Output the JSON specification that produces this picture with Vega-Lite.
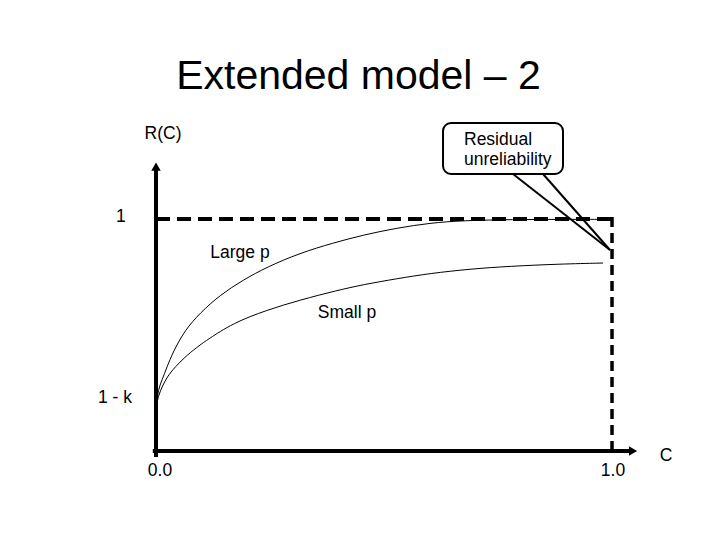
{
  "$schema": "https://vega.github.io/schema/vega-lite/v6.json",
  "width": 720,
  "height": 540,
  "autosize": {"type": "fit", "contains": "padding"},
  "padding": 0,
  "background": "white",
  "config": {"view": {"stroke": null}, "font": "Liberation Sans"},
  "encoding": {
    "x": {"field": "c", "type": "quantitative", "axis": null, "scale": {"domain": [-0.3421, 1.2368], "nice": false, "zero": false}},
    "y": {"field": "r", "type": "quantitative", "axis": null, "scale": {"domain": [-0.3836, 1.944], "nice": false, "zero": false}}
  },
  "layer": [
    {
      "data": {"values": [
        {"series": "Large p", "c": 0.0022, "r": 0.2026},
        {"series": "Large p", "c": 0.0044, "r": 0.2629},
        {"series": "Large p", "c": 0.0132, "r": 0.306},
        {"series": "Large p", "c": 0.0241, "r": 0.3621},
        {"series": "Large p", "c": 0.0373, "r": 0.4267},
        {"series": "Large p", "c": 0.0636, "r": 0.5216},
        {"series": "Large p", "c": 0.0965, "r": 0.5948},
        {"series": "Large p", "c": 0.1404, "r": 0.6724},
        {"series": "Large p", "c": 0.1908, "r": 0.7371},
        {"series": "Large p", "c": 0.2434, "r": 0.7931},
        {"series": "Large p", "c": 0.3158, "r": 0.8534},
        {"series": "Large p", "c": 0.3882, "r": 0.8966},
        {"series": "Large p", "c": 0.4539, "r": 0.931},
        {"series": "Large p", "c": 0.5285, "r": 0.9612},
        {"series": "Large p", "c": 0.6009, "r": 0.9828},
        {"series": "Large p", "c": 0.6732, "r": 0.9935},
        {"series": "Large p", "c": 0.7829, "r": 0.9978},
        {"series": "Large p", "c": 0.886, "r": 0.9985},
        {"series": "Large p", "c": 0.9846, "r": 0.9985},
        {"series": "Small p", "c": 0.0022, "r": 0.2026},
        {"series": "Small p", "c": 0.0044, "r": 0.2328},
        {"series": "Small p", "c": 0.0132, "r": 0.2759},
        {"series": "Small p", "c": 0.0241, "r": 0.319},
        {"series": "Small p", "c": 0.0417, "r": 0.3621},
        {"series": "Small p", "c": 0.068, "r": 0.4138},
        {"series": "Small p", "c": 0.0965, "r": 0.4569},
        {"series": "Small p", "c": 0.1118, "r": 0.4784},
        {"series": "Small p", "c": 0.1689, "r": 0.5517},
        {"series": "Small p", "c": 0.2434, "r": 0.6078},
        {"series": "Small p", "c": 0.3158, "r": 0.6509},
        {"series": "Small p", "c": 0.3969, "r": 0.692},
        {"series": "Small p", "c": 0.4539, "r": 0.717},
        {"series": "Small p", "c": 0.5285, "r": 0.743},
        {"series": "Small p", "c": 0.6009, "r": 0.7655},
        {"series": "Small p", "c": 0.6886, "r": 0.7845},
        {"series": "Small p", "c": 0.7763, "r": 0.7965},
        {"series": "Small p", "c": 0.886, "r": 0.806},
        {"series": "Small p", "c": 0.9803, "r": 0.8103}
      ]},
      "mark": {"type": "line", "color": "black", "strokeWidth": 1, "interpolate": "basis"},
      "encoding": {"detail": {"field": "series"}}
    },
    {
      "data": {"values": [{"c": 0, "r": 1, "c2": 1.0, "r2": 1}]},
      "mark": {"type": "rule", "color": "black", "strokeWidth": 4, "strokeDash": [14, 7]},
      "encoding": {"x2": {"field": "c2"}, "y2": {"field": "r2"}}
    },
    {
      "data": {"values": [{"c": 1.0, "r": 1.0086, "c2": 1.0, "r2": 0}]},
      "mark": {"type": "rule", "color": "black", "strokeWidth": 3.5, "strokeDash": [10, 6]},
      "encoding": {"x2": {"field": "c2"}, "y2": {"field": "r2"}}
    },
    {
      "data": {"values": [
        {"c": 0, "r": -0.026, "c2": 0, "r2": 1.211},
        {"c": -0.007, "r": 0, "c2": 1.0395, "r2": 0}
      ]},
      "mark": {"type": "rule", "color": "black", "strokeWidth": 4},
      "encoding": {"x2": {"field": "c2"}, "y2": {"field": "r2"}}
    },
    {
      "data": {"values": [{"c": 0, "r": 1.2254}]},
      "mark": {"type": "point", "shape": "triangle-up", "filled": true, "color": "black", "opacity": 1, "size": 90}
    },
    {
      "data": {"values": [{"c": 1.0461, "r": 0}]},
      "mark": {"type": "point", "shape": "triangle-right", "filled": true, "color": "black", "opacity": 1, "size": 90}
    },
    {
      "data": {"values": [
        {"c": 0.7829, "r": 1.194, "c2": 0.9956, "r2": 0.8664},
        {"c": 0.8487, "r": 1.194, "c2": 0.9956, "r2": 0.8664}
      ]},
      "mark": {"type": "rule", "color": "black", "strokeWidth": 2},
      "encoding": {"x2": {"field": "c2"}, "y2": {"field": "r2"}}
    },
    {
      "data": {"values": [{"c": 0.6294, "r": 1.4138, "c2": 0.8925, "r2": 1.194}]},
      "mark": {"type": "rect", "fill": "white", "stroke": "black", "strokeWidth": 2, "cornerRadius": 8},
      "encoding": {"x2": {"field": "c2"}, "y2": {"field": "r2"}}
    },
    {
      "data": {"values": [
        {"label": "Residual", "c": 0.6754, "r": 1.319},
        {"label": "unreliability", "c": 0.6754, "r": 1.2328}
      ]},
      "mark": {"type": "text", "align": "left", "baseline": "alphabetic", "fontSize": 17.5, "color": "black", "font": "Liberation Sans"},
      "encoding": {"text": {"field": "label"}}
    },
    {
      "data": {"values": [{"label": "Extended model – 2", "c": 0.4441, "r": 1.5603}]},
      "mark": {"type": "text", "align": "center", "baseline": "alphabetic", "fontSize": 41, "color": "black", "font": "Liberation Sans"},
      "encoding": {"text": {"field": "label"}}
    },
    {
      "data": {"values": [
        {"label": "R(C)", "c": 0.0154, "r": 1.3448},
        {"label": "Large p", "c": 0.1842, "r": 0.8319},
        {"label": "Small p", "c": 0.4189, "r": 0.5733}
      ]},
      "mark": {"type": "text", "align": "center", "baseline": "alphabetic", "fontSize": 17.5, "color": "black", "font": "Liberation Sans"},
      "encoding": {"text": {"field": "label"}}
    },
    {
      "data": {"values": [
        {"label": "1", "c": -0.0768, "r": 1.0086},
        {"label": "1 - k", "c": -0.0899, "r": 0.2284},
        {"label": "0.0", "c": 0.0088, "r": -0.0862},
        {"label": "1.0", "c": 1.0022, "r": -0.0862},
        {"label": "C", "c": 1.1184, "r": -0.0216}
      ]},
      "mark": {"type": "text", "align": "center", "baseline": "middle", "fontSize": 17.5, "color": "black", "font": "Liberation Sans"},
      "encoding": {"text": {"field": "label"}}
    }
  ]
}
